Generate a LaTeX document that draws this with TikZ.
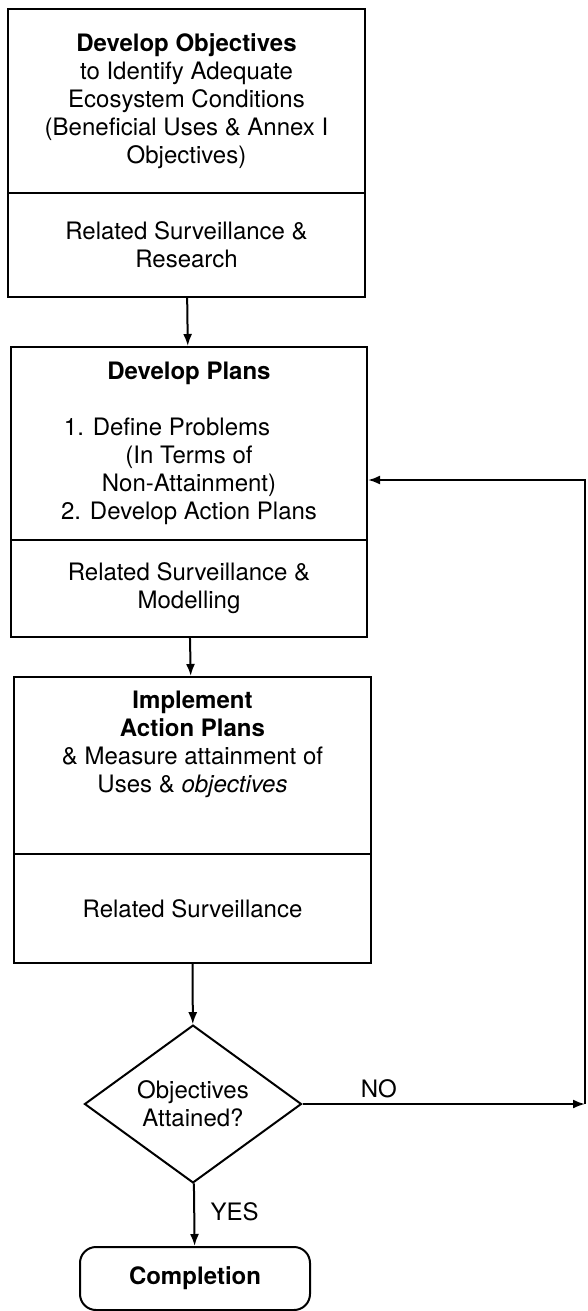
\documentclass[tikz,border=0pt]{standalone}
\usepackage{fontspec}
\setmainfont{TeX Gyre Heros}
\usetikzlibrary{arrows.meta,shapes.geometric,positioning}

\begin{document}
\begin{tikzpicture}[
    x=1pt, y=-1pt,
    line width=2pt,
    font=\fontsize{24}{28}\selectfont,
    part/.style={draw, rectangle, minimum width=357pt, align=center, inner sep=0pt},
    decision/.style={draw, diamond, minimum width=217pt, minimum height=132pt, inner sep=0pt, align=center},
    endbox/.style={draw, rounded corners=16pt, minimum width=230pt, minimum height=63pt, font=\fontsize{24}{28}\selectfont\bfseries},
    arr/.style={-{Latex[length=12pt,width=9pt]}}
]
    \useasboundingbox (0,0) rectangle (587,1311);

    % --- Objectives (top) ---
    \node[part, minimum height=184pt] (obj) at (186.5,101)
        {\textbf{Develop Objectives}\\to Identify Adequate\\Ecosystem Conditions\\(Beneficial Uses \& Annex I\\Objectives)};
    \node[part, minimum height=104pt] (objsurv) at (186.5,245)
        {Related Surveillance \&\\Research};

    % --- Plans (middle) ---
    \node[part, minimum width=356pt, minimum height=193pt] (plans) at (189,443.5)
        {\textbf{Develop Plans}\\[28pt]1. Define Problems\rule{44pt}{0pt}\\(In Terms of\\Non-Attainment)\\2. Develop Action Plans};
    \node[part, minimum width=356pt, minimum height=97pt] (planssurv) at (189,588.5)
        {Related Surveillance \&\\Modelling};

    % --- Action plans (lower) ---
    \node[part, minimum height=177pt] (impl) at (192.5,765.5)
        {\textbf{Implement}\\\textbf{Action Plans}\\\& Measure attainment of\\Uses \& \textit{objectives}\\[12pt]\strut};
    \node[part, minimum height=109pt] (implsurv) at (192.5,908.5)
        {Related Surveillance};

    % --- Test and end ---
    \node[decision] (test) at (193,1104) {Objectives\\Attained?};
    \node[endbox] (done) at (195,1278.5) {Completion};

    \coordinate (noend) at (585,1104);
    \coordinate (back) at (585,480);

    \draw[arr] (objsurv) -- (plans);
    \draw[arr] (planssurv) -- (impl);
    \draw[arr] (implsurv) -- (test);
    \draw[arr] (test) -- node[right=12pt, pos=0.45] {YES} (done);
    \draw[arr] (test) -- node[above=2pt, pos=0.27] {NO} (noend);
    \draw[arr] (noend) -- (back) -- (back -| plans.east);

\end{tikzpicture}
\end{document}
